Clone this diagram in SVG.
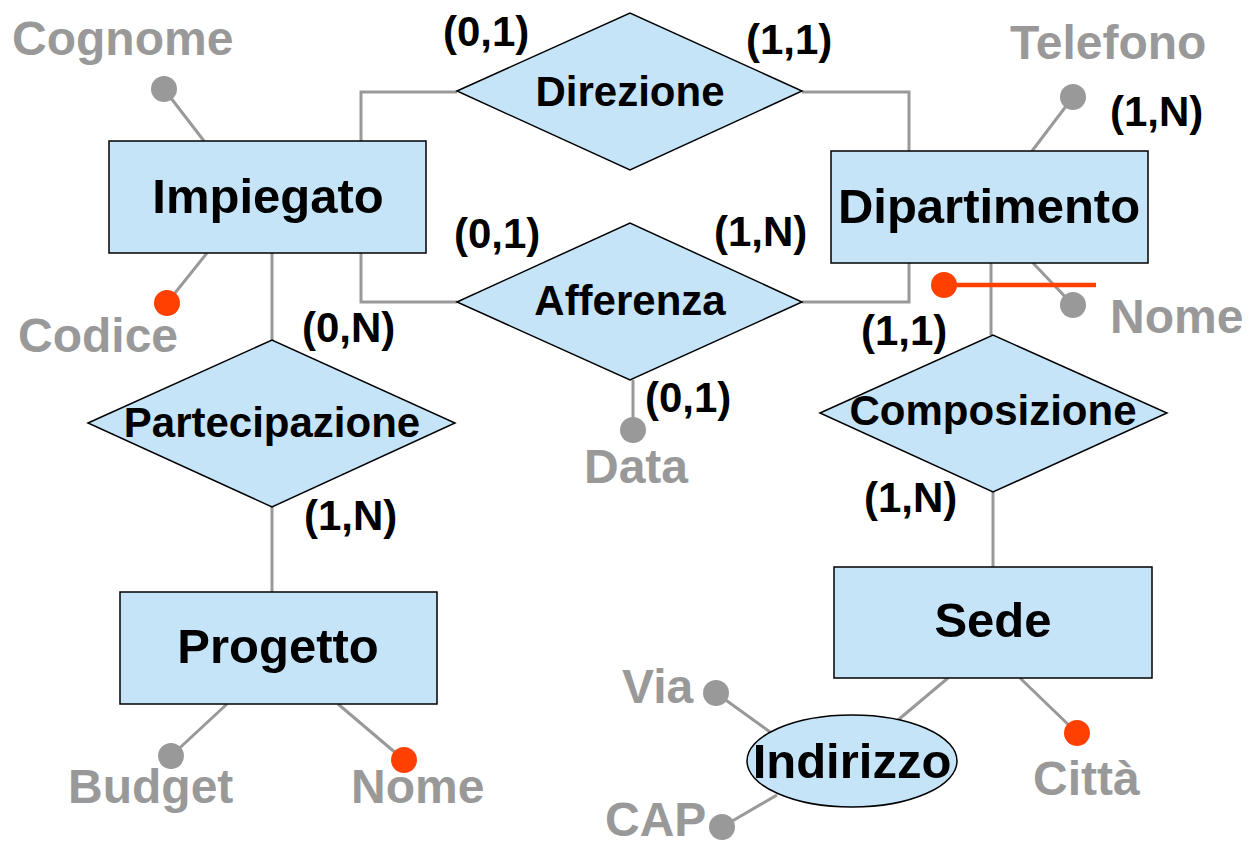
<svg xmlns="http://www.w3.org/2000/svg" width="1254" height="841" viewBox="0 0 1254 841">
<style>
.shape{fill:#C5E4F8;stroke:#000;stroke-width:1.5}
.conn{fill:none;stroke:#999;stroke-width:3}
.key{fill:none;stroke:#FF4000;stroke-width:4.5}
.dot{fill:#999}
.kdot{fill:#FF4000}
text{font-family:"Liberation Sans",Arial,sans-serif;font-weight:bold}
.ent{font-size:49px;fill:#000;text-anchor:middle}
.rel{font-size:42px;fill:#000;text-anchor:middle}
.card{font-size:42px;fill:#000}
.attr{font-size:48px;fill:#999}
</style>
<rect width="1254" height="841" fill="#fff"/>
<g id="connectors">
<polyline class="conn" points="361,141 361,92 457,92"/>
<polyline class="conn" points="802,92 909,92 909,151"/>
<polyline class="conn" points="361,253 361,302 457,302"/>
<polyline class="conn" points="802,302 909,302 909,263"/>
<line class="conn" x1="272" y1="253" x2="272" y2="340"/>
<line class="conn" x1="272" y1="507" x2="272" y2="592"/>
<line class="conn" x1="991" y1="263" x2="991" y2="335"/>
<line class="conn" x1="993" y1="492" x2="993" y2="567"/>
<line class="conn" x1="948" y1="678" x2="898" y2="720"/>
</g>
<g id="attr-cognome"><line class="conn" x1="204" y1="141" x2="164" y2="89"/><circle class="dot" cx="164" cy="89" r="13"/><text class="attr" x="12" y="55">Cognome</text></g>
<g id="attr-codice"><line class="conn" x1="207" y1="253" x2="167" y2="303"/><circle class="kdot" cx="167" cy="303" r="13"/><text class="attr" x="18" y="352">Codice</text></g>
<g id="attr-telefono"><line class="conn" x1="1032" y1="151" x2="1073" y2="97"/><circle class="dot" cx="1073" cy="97" r="13"/><text class="attr" x="1010" y="59">Telefono</text><text class="card" x="1110" y="126">(1,N)</text></g>
<g id="attr-nome-dip"><line class="conn" x1="1033" y1="263" x2="1073" y2="305"/><circle class="dot" cx="1073" cy="305" r="13"/><text class="attr" x="1110" y="333">Nome</text></g>
<g id="key-dip"><line class="key" x1="944" y1="285" x2="1096" y2="285"/><circle class="kdot" cx="944" cy="285" r="13"/></g>
<g id="attr-data"><line class="conn" x1="633" y1="380" x2="633" y2="430"/><circle class="dot" cx="633" cy="430" r="13"/><text class="attr" x="584" y="483">Data</text><text class="card" x="645" y="412">(0,1)</text></g>
<g id="attr-budget"><line class="conn" x1="227" y1="704" x2="171" y2="756"/><circle class="dot" cx="171" cy="756" r="13"/><text class="attr" x="68" y="803">Budget</text></g>
<g id="attr-nome-prog"><line class="conn" x1="338" y1="704" x2="404" y2="760"/><circle class="kdot" cx="404" cy="760" r="13"/><text class="attr" x="351" y="803">Nome</text></g>
<g id="attr-citta"><line class="conn" x1="1020" y1="678" x2="1077" y2="733"/><circle class="kdot" cx="1077" cy="733" r="13"/><text class="attr" x="1033" y="795">Città</text></g>
<g id="attr-via"><line class="conn" x1="716" y1="693" x2="770" y2="732"/><circle class="dot" cx="716" cy="693" r="13"/><text class="attr" x="622" y="703">Via</text></g>
<g id="attr-cap"><line class="conn" x1="722" y1="827" x2="777" y2="795"/><circle class="dot" cx="722" cy="827" r="13"/><text class="attr" x="605" y="836">CAP</text></g>
<g id="impiegato"><rect class="shape" x="109" y="141" width="317" height="112"/><text class="ent" x="268" y="213">Impiegato</text></g>
<g id="dipartimento"><rect class="shape" x="831" y="151" width="317" height="112"/><text class="ent" x="989" y="223">Dipartimento</text></g>
<g id="progetto"><rect class="shape" x="120" y="592" width="317" height="112"/><text class="ent" x="278" y="663">Progetto</text></g>
<g id="sede"><rect class="shape" x="834" y="567" width="318" height="111"/><text class="ent" x="993" y="637">Sede</text></g>
<g id="direzione"><polygon class="shape" points="457,91 630,13 802,91 630,170"/><text class="rel" x="630" y="106">Direzione</text><text class="card" x="443" y="46">(0,1)</text><text class="card" x="746" y="54">(1,1)</text></g>
<g id="afferenza"><polygon class="shape" points="457,302 630,223 802,302 630,380"/><text class="rel" x="630" y="315">Afferenza</text><text class="card" x="454" y="248">(0,1)</text><text class="card" x="714" y="246">(1,N)</text></g>
<g id="partecipazione"><polygon class="shape" points="88,423 272,340 455,423 272,507"/><text class="rel" x="272" y="437">Partecipazione</text><text class="card" x="302" y="342">(0,N)</text><text class="card" x="304" y="530">(1,N)</text></g>
<g id="composizione"><polygon class="shape" points="820,413 993,335 1167,413 993,492"/><text class="rel" x="993" y="425">Composizione</text><text class="card" x="861" y="345">(1,1)</text><text class="card" x="864" y="512">(1,N)</text></g>
<g id="indirizzo"><ellipse class="shape" cx="852" cy="761" rx="105" ry="46"/><text class="ent" x="852" y="778">Indirizzo</text></g>
</svg>
